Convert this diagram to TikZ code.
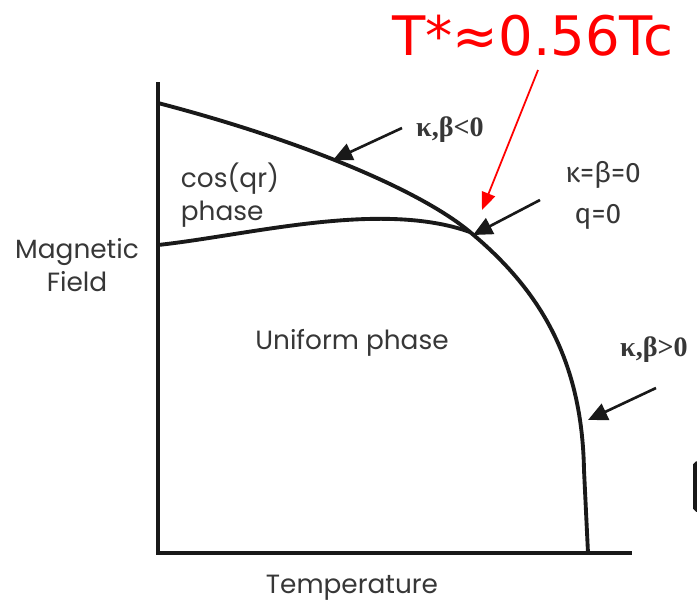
\documentclass[tikz,border=0pt]{standalone}
\usepackage{fontspec}
\usepackage{tikz}
\usetikzlibrary{arrows.meta}
\newfontfamily\geofont{Poppins}
\newfontfamily\kappafont{Liberation Serif}
\newfontfamily\kbzfont{Fira Sans}
\newfontfamily\redfont{DejaVu Sans}
\definecolor{inkaxis}{RGB}{25,25,25}
\definecolor{inktext}{RGB}{55,55,55}
\definecolor{markRed}{RGB}{255,0,0}

\begin{document}
\begin{tikzpicture}[x=0.02cm,y=-0.02cm,
    phasetext/.style={font=\geofont\fontsize{15}{17}\selectfont,color=inktext,inner sep=0pt},
    kblabel/.style={font=\kappafont\bfseries\fontsize{16}{18}\selectfont,color=inktext,inner sep=0pt},
    kbzlabel/.style={font=\kbzfont\fontsize{16}{18}\selectfont,color=inktext,inner sep=0pt},
    pointer/.style={line width=1.5pt,color=inkaxis,-{Triangle[length=11pt,width=10pt]}},
    redpointer/.style={line width=1pt,color=markRed,-{Triangle[length=10pt,width=8pt]}}]
  \clip (0,0) rectangle (697,606);
  \fill[white] (0,0) rectangle (697,606);
  % axes
  \coordinate (top) at (158,82);
  \coordinate (origin) at (158,553);
  \coordinate (tend) at (632,553);
  \draw[line width=2.6pt,color=inkaxis] (top) -- (origin) -- (tend);
  % phase boundaries
  \coordinate (hstart) at (158,103);
  \coordinate (lstart) at (158,245);
  \coordinate (tri) at (470,232);
  \coordinate (tcend) at (588,553);
  \draw[line width=2.2pt,color=inkaxis] (hstart) .. controls (300,140) and (420,190) .. (tri)
      .. controls (540,290) and (582,360) .. (584,470) -- (tcend);
  \draw[line width=2.2pt,color=inkaxis] (lstart) .. controls (250,235) and (380,200) .. (tri);
  % labels
  \node[phasetext,align=center] (mfield) at (77,265) {Magnetic\\[2pt]Field};
  \node[phasetext] (temp) at (352,588) {Temperature};
  \node[phasetext] (unif) at (352,343) {Uniform phase};
  \node[phasetext,align=left] (cosqr) at (230,195) {cos(qr)\\[2pt]phase};
  \node[kblabel] (kbneg) at (450,130) {κ,β<0};
  \node[kbzlabel] (kbzero) at (603,175) {κ=β=0};
  \node[kbzlabel] (qzero) at (598,217) {q=0};
  \node[kblabel] (kbpos) at (654,350) {κ,β>0};
  \node[font=\redfont\fontsize{31}{35}\selectfont,color=markRed,inner sep=0pt] (tstar) at (533,36) {T*≈0.56Tc};
  % pointers
  \coordinate (kbnegtail) at (402,128);
  \coordinate (kbnegtip) at (333,160);
  \coordinate (kbzerotail) at (540,200);
  \coordinate (kbzerotip) at (473,235);
  \coordinate (kbpostail) at (656,388);
  \coordinate (kbpostip) at (588,420);
  \coordinate (redtail) at (538,70);
  \coordinate (redtip) at (482,210);
  \draw[pointer] (kbnegtail) -- (kbnegtip);
  \draw[pointer] (kbzerotail) -- (kbzerotip);
  \draw[pointer] (kbpostail) -- (kbpostip);
  \draw[redpointer] (redtail) -- (redtip);
  % cut-off box at the right edge
  \draw[line width=2pt,color=inkaxis,rounded corners=1pt] (695,463) rectangle (740,510);
\end{tikzpicture}
\end{document}
